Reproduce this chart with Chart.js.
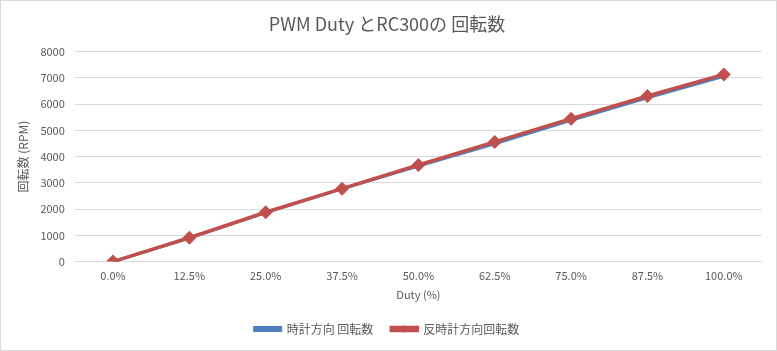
<!DOCTYPE html>
<html>
<head>
<meta charset="utf-8">
<script src="https://cdn.jsdelivr.net/npm/chart.js@4"></script>
<style>
body{margin:0;background:#fff}
#wrap{position:relative;width:775px;height:349px;border:1px solid #d9d9d9}
</style>
</head>
<body>
<div id="wrap"><canvas id="rpm-chart"></canvas></div>
<script>
// Duty vs RC300 rpm
const dutyLabels = ['0.0%','12.5%','25.0%','37.5%','50.0%','62.5%','75.0%','87.5%','100.0%']
const cwRpm  = [0, 900, 1870, 2770, 3640, 4490, 5380, 6240, 7060]
const ccwRpm = [0, 910, 1880, 2780, 3680, 4560, 5445, 6310, 7130]

const txt = '#595959'
const jpFont = "'Noto Sans CJK JP', 'Open Sans', sans-serif"

// small diamond over the red legend line
const legendMarker = {
    id: 'legendMarker',
    afterDraw(chart){
        const boxes = chart.legend.legendHitBoxes
        if(!boxes || boxes.length < 2) return
        const b = boxes[1]
        const bw = chart.legend.options.labels.boxWidth
        const cx = b.left + bw/2
        const cy = b.top + b.height/2
        const ctx = chart.ctx
        ctx.save()
        ctx.fillStyle = '#C0504D'
        ctx.beginPath()
        ctx.moveTo(cx, cy-4)
        ctx.lineTo(cx+4, cy)
        ctx.lineTo(cx, cy+4)
        ctx.lineTo(cx-4, cy)
        ctx.closePath()
        ctx.fill()
        ctx.restore()
    }
}

const chart = new Chart(document.getElementById('rpm-chart'), {
    type: 'line',
    data: {
        labels: dutyLabels,
        datasets: [{
            label: '時計方向 回転数',
            data: cwRpm,
            borderColor: '#4F81BD',
            backgroundColor: '#4F81BD',
            borderWidth: 3,
            pointRadius: 0,
            pointHoverRadius: 0,
            order: 2
        },{
            label: '反時計方向回転数',
            data: ccwRpm,
            borderColor: '#C0504D',
            backgroundColor: '#C0504D',
            borderWidth: 3.5,
            pointStyle: 'rectRot',
            pointRadius: 7,
            pointBorderWidth: 0,
            order: 1
        }]
    },
    options: {
        responsive: true,
        maintainAspectRatio: false,
        animation: false,
        layout: {padding: {left: 11, right: 14, top: 8, bottom: 5}},
        plugins: {
            title: {
                display: true,
                text: 'PWM Duty とRC300の 回転数',
                color: txt,
                font: {family: jpFont, size: 18, weight: 'normal'},
                padding: {top: 4, bottom: 17}
            },
            legend: {
                position: 'bottom',
                labels: {
                    color: txt,
                    font: {family: jpFont, size: 12},
                    boxWidth: 26,
                    boxHeight: 3,
                    padding: 18,
                    sort: (a, b) => a.datasetIndex - b.datasetIndex
                }
            },
            tooltip: {enabled: false}
        },
        scales: {
            x: {
                offset: true,
                grid: {display: false},
                border: {display: false},
                ticks: {color: txt, font: {family: jpFont, size: 11}, padding: 0},
                title: {display: true, text: 'Duty (%)', color: txt, font: {family: jpFont, size: 11}, padding: {top: 5}}
            },
            y: {
                min: 0,
                max: 8000,
                ticks: {stepSize: 1000, color: txt, font: {family: jpFont, size: 11}, padding: 10,
                    callback: v => String(v)},
                grid: {color: '#d9d9d9', drawTicks: false},
                border: {display: false},
                title: {display: true, text: '回転数 (RPM)', color: txt, font: {family: jpFont, size: 12}, padding: {bottom: 0}}
            }
        }
    },
    plugins: [legendMarker]
})
</script>
</body>
</html>
